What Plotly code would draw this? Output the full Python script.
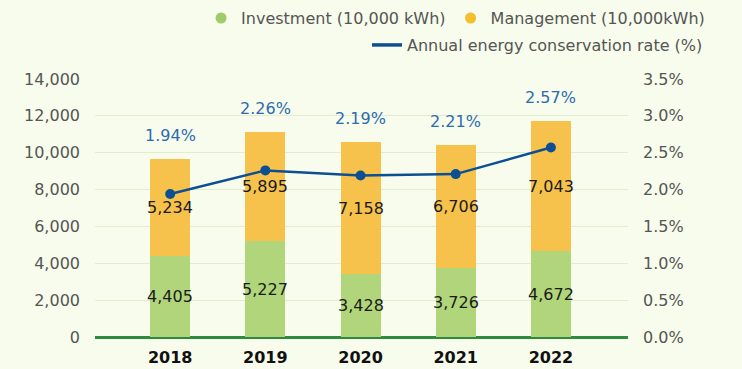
import plotly.graph_objects as go

years = ["2018", "2019", "2020", "2021", "2022"]
investment = [4405, 5227, 3428, 3726, 4672]
management = [5234, 5895, 7158, 6706, 7043]
conservation_rate = [1.94, 2.26, 2.19, 2.21, 2.57]

left_ticks = [0, 2000, 4000, 6000, 8000, 10000, 12000, 14000]
right_ticks = [0, 0.5, 1.0, 1.5, 2.0, 2.5, 3.0, 3.5]

BG = "#F7FCEC"
GRID = "#E2EDCF"
FONT = "DejaVu Sans"
GREEN = "#B0D57A"
YELLOW = "#F7C24B"
BLUE = "#0C4F93"

fig = go.Figure()

fig.add_trace(go.Bar(
    x=years, y=investment, name="Investment (10,000 kWh)",
    marker=dict(color=GREEN, line=dict(width=0)),
    width=0.42,
    text=[f"{v:,}" for v in investment], textposition="inside",
    insidetextanchor="middle", textangle=0, constraintext="none",
    textfont=dict(family=FONT, size=16, color="#1A1A1A"),
    showlegend=False, hoverinfo="skip",
))
fig.add_trace(go.Bar(
    x=years, y=management, name="Management (10,000kWh)",
    marker=dict(color=YELLOW, line=dict(width=0)),
    width=0.42,
    text=[f"{v:,}" for v in management], textposition="inside",
    insidetextanchor="middle", textangle=0, constraintext="none",
    textfont=dict(family=FONT, size=16, color="#1A1A1A"),
    showlegend=False, hoverinfo="skip",
))

# Rate line on the secondary axis
fig.add_trace(go.Scatter(
    x=years, y=conservation_rate, yaxis="y2", mode="lines+markers",
    name="Annual energy conservation rate (%)",
    line=dict(color=BLUE, width=2.5),
    marker=dict(color=BLUE, size=10),
    showlegend=False,
))

# Legend entries: round dots for the bars, a plain line for the rate
fig.add_trace(go.Scatter(
    x=[None], y=[None], mode="markers", name="Investment (10,000 kWh)",
    marker=dict(color="#9FCC68", size=11, symbol="circle"), legend="legend",
))
fig.add_trace(go.Scatter(
    x=[None], y=[None], mode="markers", name="Management (10,000kWh)",
    marker=dict(color="#F5BE2A", size=11, symbol="circle"), legend="legend",
))
fig.add_trace(go.Scatter(
    x=[None], y=[None], yaxis="y2", mode="lines",
    name="Annual energy conservation rate (%)",
    line=dict(color=BLUE, width=3.5), legend="legend2",
))

# Rate labels sit above each stacked total
totals = [a + b for a, b in zip(investment, management)]
for i, (tot, r) in enumerate(zip(totals, conservation_rate)):
    fig.add_annotation(
        x=i, y=tot, xref="x", yref="y", text=f"{r:.2f}%",
        showarrow=False, yanchor="bottom", yshift=12,
        font=dict(family=FONT, size=16, color="#2C6BB0"),
    )

fig.update_layout(
    width=742, height=369,
    margin=dict(l=95, r=114, t=79, b=32),
    paper_bgcolor=BG, plot_bgcolor=BG,
    barmode="stack", bargap=0,
    font=dict(family=FONT, size=16, color="#555555"),
    xaxis=dict(
        type="category", range=[-0.79, 4.81], showgrid=False,
        showline=False, zeroline=False, ticks="", automargin=False,
        tickfont=dict(family=FONT, size=16, color="#111111", weight="bold"),
        ticklabelstandoff=9,
    ),
    yaxis=dict(
        range=[0, 14000], tickvals=left_ticks,
        ticktext=[f"{v:,}" for v in left_ticks],
        showgrid=True, gridcolor=GRID, gridwidth=1,
        zeroline=True, zerolinecolor="#2E8B3E", zerolinewidth=2.5,
        showline=False, ticks="", ticklabelstandoff=14, automargin=False,
        tickfont=dict(family=FONT, size=16, color="#555555"),
    ),
    yaxis2=dict(
        range=[0, 3.5], tickvals=right_ticks,
        ticktext=[f"{v:.1f}%" for v in right_ticks],
        overlaying="y", side="right", showgrid=False, zeroline=False,
        showline=False, ticks="", ticklabelstandoff=14, automargin=False,
        tickfont=dict(family=FONT, size=16, color="#555555"),
    ),
    legend=dict(
        orientation="h", xref="container", yref="container",
        x=0.271, y=0.997, xanchor="left", yanchor="top",
        traceorder="normal",
        bgcolor="rgba(0,0,0,0)", font=dict(family=FONT, size=16, color="#555555"),
    ),
    legend2=dict(
        orientation="h", xref="container", yref="container",
        x=0.4946, y=0.924, xanchor="left", yanchor="top",
        bgcolor="rgba(0,0,0,0)", font=dict(family=FONT, size=16, color="#555555"),
    ),
    showlegend=True,
)

fig.write_html("out.html")
